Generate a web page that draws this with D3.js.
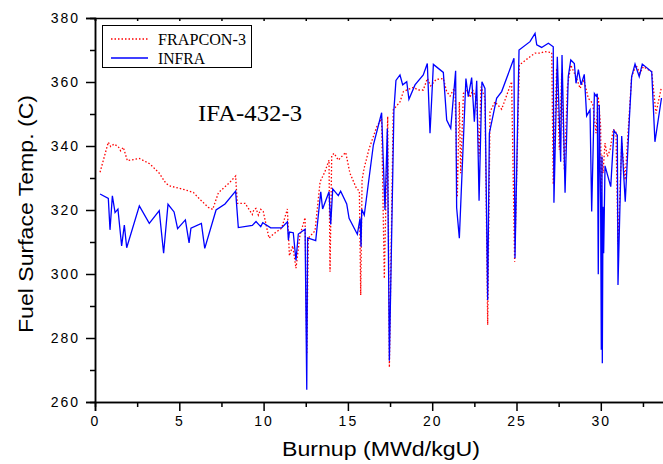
<!DOCTYPE html>
<meta charset="utf-8">
<head>
<script src="https://d3js.org/d3.v7.min.js"></script>
<style>
  body { margin: 0; background: #fff; }
  .tick text { font: 14px "Liberation Sans", Arial, sans-serif; letter-spacing: 2px; fill: #000; }
  .axis path, .axis line { stroke: #000; stroke-width: 1.5px; }
  .frap { fill: none; stroke: #ff0000; stroke-width: 1.3px; stroke-dasharray: 1.5,2; }
  .infra { fill: none; stroke: #0000ff; stroke-width: 1.3px; }
</style>
</head>
<body>
<script>

// INFRA (blue solid) - burnup (MWd/kgU) and fuel surface temperature (C)
var infraBurnup = [0.30,0.79,0.89,1.03,1.19,1.36,1.58,1.74,1.88,2.63,3.22,3.81,4.07,4.33,4.69,4.90,5.36,5.58,5.69,6.31,
  6.51,7.18,7.71,8.34,8.50,9.33,9.55,9.69,9.83,9.95,10.42,11.07,11.41,11.47,11.53,11.76,11.92,12.06,12.46,12.56,
  12.61,13.09,13.39,13.50,13.88,13.98,14.10,14.43,14.57,14.93,15.07,15.56,15.72,15.78,15.82,15.97,16.51,17.00,17.20,17.34,
  17.46,17.73,17.85,18.09,18.25,18.49,18.62,18.98,19.47,19.71,19.87,20.07,20.66,20.86,21.10,21.39,21.45,21.61,22.00,22.14,
  22.34,22.50,22.64,22.78,22.95,23.13,23.29,23.39,23.82,24.12,24.85,24.91,25.15,25.80,26.10,26.20,26.49,26.89,27.18,27.22,
  27.42,27.62,27.70,27.88,28.07,28.22,28.43,28.53,28.67,28.83,29.02,29.16,29.36,29.46,29.62,29.72,29.79,29.85,29.91,29.99,
  30.03,30.07,30.09,30.13,30.17,30.25,30.59,30.78,30.98,31.02,31.24,31.33,31.45,31.69,31.83,32.03,32.28,32.46,33.02,33.21,33.60];
var infraTemp = [325.0,323.6,313.8,324.4,319.2,320.3,308.8,315.3,308.2,321.3,315.8,319.8,306.5,321.8,319.4,314.2,316.9,309.7,314.3,315.8,
  308.0,320.0,321.9,325.9,314.5,315.2,316.4,315.6,314.8,316.0,314.4,314.4,316.3,310.6,313.1,312.9,304.2,312.5,314.0,263.8,
  311.3,310.4,325.7,320.3,325.7,315.5,326.6,324.5,325.9,321.9,317.4,312.4,317.4,308.5,320.2,318.4,340.3,350.4,320.0,345.5,
  272.9,351.3,360.5,362.2,359.1,360.1,354.6,359.1,362.2,365.8,344.0,365.5,363.0,348.1,345.5,363.5,320.7,311.2,361.1,355.4,
  361.4,347.6,360.4,322.9,360.1,358.0,291.9,344.0,354.9,357.0,367.4,304.9,370.0,372.6,375.2,371.6,370.8,372.1,371.0,322.3,
  367.9,335.1,368.4,325.4,361.7,366.9,365.8,359.6,363.9,359.1,362.4,349.4,351.3,319.5,356.4,355.6,356.3,299.9,352.8,322.1,
  276.3,336.7,272.1,321.0,306.5,333.8,327.3,344.8,343.4,296.6,343.1,333.5,322.6,348.1,361.7,365.6,361.7,365.6,363.2,341.3,355.0];

// FRAPCON-3 (red dotted)
var frapBurnup = [0.30,0.79,0.93,1.13,1.38,1.52,1.68,1.92,2.63,3.26,3.81,4.21,4.45,5.34,5.83,6.23,6.72,6.98,7.32,7.97,
  8.34,8.44,8.90,9.33,9.43,9.55,9.69,9.83,9.98,10.32,10.58,11.07,11.41,11.53,11.73,11.92,12.16,12.46,12.56,12.65,
  13.05,13.35,13.64,13.88,13.94,14.04,14.18,14.43,14.87,15.12,15.52,15.68,15.76,15.84,15.96,16.25,16.71,17.00,17.16,17.36,
  17.46,17.69,18.09,18.29,18.58,18.88,19.18,19.47,19.71,19.91,20.23,20.66,20.86,21.06,21.35,21.49,21.61,21.69,21.85,22.05,
  22.24,22.40,22.64,22.78,22.89,23.13,23.29,23.43,23.72,24.12,24.71,24.89,25.17,25.80,26.10,26.39,26.69,27.09,27.18,27.38,
  27.54,27.68,27.84,28.02,28.22,28.57,28.77,29.00,29.26,29.52,29.72,29.85,29.99,30.03,30.07,30.13,30.25,30.39,30.55,30.74,
  30.90,31.02,31.24,31.44,31.69,31.83,32.09,32.32,32.52,33.02,33.27,33.60];
var frapTemp = [331.8,341.2,339.8,340.6,339.8,338.5,339.6,335.4,336.1,334.4,331.5,328.3,327.5,326.3,325.5,323.3,320.8,320.2,325.4,328.5,
  330.6,322.1,322.1,318.6,320.2,320.5,318.4,320.2,319.5,311.2,312.5,314.3,320.3,305.7,308.8,301.8,312.2,317.6,275.0,311.2,
  313.5,328.8,332.0,335.6,300.7,337.0,337.7,335.6,338.0,331.5,326.6,326.0,293.4,329.4,333.0,339.0,346.0,348.6,298.6,349.2,
  270.8,351.3,353.8,357.0,357.7,358.3,357.5,357.5,361.1,358.8,360.8,361.1,357.0,355.6,358.5,324.0,353.8,331.5,356.4,357.5,
  355.2,357.5,354.4,336.7,358.5,354.9,284.1,350.7,353.8,351.5,360.1,303.8,365.3,367.9,369.0,369.0,369.5,369.2,328.0,364.3,
  338.8,362.7,332.5,358.5,365.3,361.1,358.0,360.6,354.9,353.3,344.0,355.4,346.0,324.2,337.2,331.5,340.9,336.7,338.8,345.2,
  344.5,309.3,340.9,329.4,350.2,361.7,365.3,362.7,364.8,363.2,350.2,358.5];

// tick values
var xMajor = [0, 5, 10, 15, 20, 25, 30];
var xMinor = [2.5, 7.5, 12.5, 17.5, 22.5, 27.5, 32.5];
var yMajor = [260, 280, 300, 320, 340, 360, 380];
var yMinor = [270, 290, 310, 330, 350, 370];

var width = 663, height = 464;

var x = d3.scaleLinear().domain([0, 35]).range([95, 95 + 35 * 16.86]);
var y = d3.scaleLinear().domain([260, 380]).range([402, 18]);

var svg = d3.select("body").append("svg")
    .attr("width", width)
    .attr("height", height);

var line = d3.line()
    .x(function(d) { return x(d[0]); })
    .y(function(d) { return y(d[1]); });

var frapData = frapBurnup.map(function(b, i) { return [b, frapTemp[i]]; });
var infraData = infraBurnup.map(function(b, i) { return [b, infraTemp[i]]; });

svg.append("path").datum(frapData).attr("class", "frap").attr("d", line);
svg.append("path").datum(infraData).attr("class", "infra").attr("d", line);

// x axis (bottom) with minor ticks
svg.append("g")
    .attr("class", "axis")
    .attr("transform", "translate(0,402)")
    .call(d3.axisBottom(x).tickValues(xMinor).tickSize(5).tickFormat(""));
svg.append("g")
    .attr("class", "axis")
    .attr("transform", "translate(0,402)")
    .call(d3.axisBottom(x).tickValues(xMajor).tickSize(9).tickPadding(5).tickFormat(d3.format("d")));

// top frame
svg.append("g")
    .attr("class", "axis")
    .attr("transform", "translate(0,18)")
    .call(d3.axisTop(x).tickValues(xMajor.concat(xMinor)).tickSize(-3).tickFormat(""));

// y axis with minor ticks
svg.append("g")
    .attr("class", "axis")
    .attr("transform", "translate(95,0)")
    .call(d3.axisLeft(y).tickValues(yMinor).tickSize(5).tickFormat(""));
svg.append("g")
    .attr("class", "axis")
    .attr("transform", "translate(95,0)")
    .call(d3.axisLeft(y).tickValues(yMajor).tickSize(9).tickPadding(6).tickFormat(d3.format("d")));

// legend
var legend = svg.append("g");
legend.append("rect")
    .attr("x", 102.5).attr("y", 25.5)
    .attr("width", 149).attr("height", 42)
    .attr("fill", "#fff").attr("stroke", "#000").attr("stroke-width", 1);
legend.append("line").attr("class", "frap")
    .attr("x1", 111).attr("x2", 148).attr("y1", 39).attr("y2", 39);
legend.append("line").attr("class", "infra")
    .attr("x1", 111).attr("x2", 148).attr("y1", 58).attr("y2", 58);
legend.append("text")
    .attr("x", 158).attr("y", 45)
    .attr("textLength", 88).attr("lengthAdjust", "spacingAndGlyphs")
    .style("font", "17px 'Liberation Serif', serif")
    .text("FRAPCON-3");
legend.append("text")
    .attr("x", 158).attr("y", 64)
    .attr("textLength", 47).attr("lengthAdjust", "spacingAndGlyphs")
    .style("font", "17px 'Liberation Serif', serif")
    .text("INFRA");

// case label
svg.append("text")
    .attr("x", 198).attr("y", 121)
    .attr("textLength", 104).attr("lengthAdjust", "spacingAndGlyphs")
    .style("font", "24px 'Liberation Serif', serif")
    .text("IFA-432-3");

// axis titles
svg.append("text")
    .attr("transform", "translate(33,214) rotate(-90)")
    .attr("text-anchor", "middle")
    .attr("textLength", 238).attr("lengthAdjust", "spacingAndGlyphs")
    .style("font", "20px 'Liberation Sans', Arial, sans-serif")
    .text("Fuel Surface Temp. (C)");

svg.append("text")
    .attr("x", 381).attr("y", 456)
    .attr("text-anchor", "middle")
    .attr("textLength", 198).attr("lengthAdjust", "spacingAndGlyphs")
    .style("font", "20px 'Liberation Sans', Arial, sans-serif")
    .text("Burnup (MWd/kgU)");

</script>
</body>
